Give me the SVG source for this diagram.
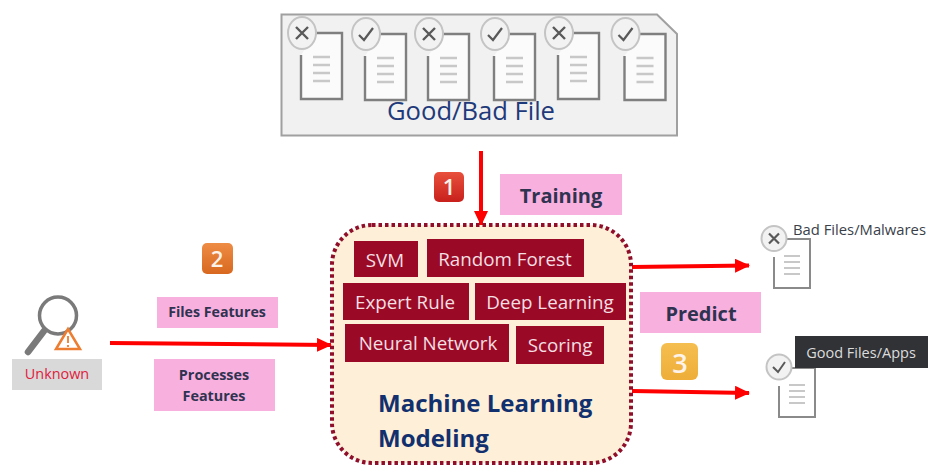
<svg xmlns="http://www.w3.org/2000/svg" width="928" height="466" viewBox="0 0 928 466">
<defs>
<marker id="arr" markerUnits="userSpaceOnUse" markerWidth="15" markerHeight="14" refX="14" refY="7" orient="auto"><path d="M0 0L15 7L0 14Z" fill="#fe0000"/></marker>
<linearGradient id="g1" x1="0" y1="0" x2="0" y2="1"><stop offset="0" stop-color="#e8503c"/><stop offset="1" stop-color="#c8201c"/></linearGradient>
<linearGradient id="g2" x1="0" y1="0" x2="0" y2="1"><stop offset="0" stop-color="#ee8c45"/><stop offset="1" stop-color="#d8681f"/></linearGradient>
<linearGradient id="g3" x1="0" y1="0" x2="0" y2="1"><stop offset="0" stop-color="#f5be50"/><stop offset="1" stop-color="#eeae38"/></linearGradient>
<g id="doc">
<path d="M15 0H41V66H0V22" fill="#fbfbfb" stroke="#7f7f7f" stroke-width="2.400"/>
<path d="M12 24H29M12 32H29M12 40H29M12 48H29" stroke="#c8c8c8" stroke-width="2.600" fill="none"/>
</g>
<g id="bad"><use href="#doc"/><ellipse cx="1" cy="0" rx="14" ry="16" fill="#f2f2f2" stroke="#c4c4c4" stroke-width="2"/><path d="M-5 -6L7 6M7 -6L-5 6" stroke="#595959" stroke-width="2.400" fill="none"/></g>
<g id="good"><use href="#doc"/><ellipse cx="1" cy="0" rx="14" ry="16" fill="#f2f2f2" stroke="#c4c4c4" stroke-width="2"/><path d="M-6 1L-1 6L8 -6" stroke="#595959" stroke-width="2.200" fill="none"/></g>
<g id="sdoc">
<path d="M12 0H36V49H0V18" fill="#fff" stroke="#8a8a8a" stroke-width="2"/>
<path d="M10 17H26M10 23H26M10 29H26M10 35H26" stroke="#c8c8c8" stroke-width="2" fill="none"/>
</g>
</defs>
<style>
text{font-family:"Open Sans","Noto Sans",sans-serif}
.pink{fill:#f8b0df}
.pl{font-weight:700;fill:#2f3350;text-anchor:middle}
.alg rect{fill:#9a0a26}
.alg text{fill:#f3dfe2;font-size:18.800px;text-anchor:middle}
.conn{stroke:#fe0000;stroke-width:4;fill:none;marker-end:url(#arr)}
.badge{font-weight:600;font-size:22px;fill:#fdf3ea;text-anchor:middle}
</style>
<g id="connectors">
<path class="conn" d="M481 151V225"/>
<path class="conn" d="M110 343L331 345"/>
<path class="conn" d="M632 267L749 265.500"/>
<path class="conn" d="M632 391L749 393"/>
</g>
<g id="good-bad-file">
<path d="M281.500 14.500H657L677 34V135.500H281.500Z" fill="#f1f1f1" stroke="#a0a0a0" stroke-width="2"/>
<use href="#bad" x="301" y="33"/><use href="#good" x="365" y="34"/><use href="#bad" x="428" y="34"/><use href="#good" x="494" y="34"/><use href="#bad" x="558" y="33"/><use href="#good" x="624.500" y="34"/>
<text x="471" y="120" font-size="25.600" fill="#1f3a7a" text-anchor="middle">Good/Bad File</text>
</g>
<g id="badge-1"><rect x="434" y="172" width="30" height="30" rx="5" fill="url(#g1)"/><text class="badge" x="449" y="195">1</text></g>
<g id="training"><rect class="pink" x="500" y="174" width="122" height="41"/><text class="pl" x="561" y="203" font-size="20">Training</text></g>
<g id="badge-2"><rect x="202" y="243" width="31" height="31" rx="5" fill="url(#g2)"/><text class="badge" x="217" y="267">2</text></g>
<g id="files-features"><rect class="pink" x="157" y="297" width="121" height="31"/><text class="pl" x="217" y="317" font-size="14.200">Files Features</text></g>
<g id="processes-features"><rect class="pink" x="154" y="359" width="121" height="52"/><text class="pl" x="214" y="380" font-size="14.400">Processes</text><text class="pl" x="214" y="401" font-size="14.400">Features</text></g>
<g id="unknown">
<circle cx="58" cy="315.500" r="18.500" fill="none" stroke="#7a7a7a" stroke-width="3.500"/>
<path d="M44 331L28 352" stroke="#7a7a7a" stroke-width="6.500" stroke-linecap="round"/>
<path d="M68 329L56 349H80Z" fill="#fff" stroke="#ed7d31" stroke-width="2.500"/>
<path d="M68 336V343M68 345V347" stroke="#ed7d31" stroke-width="1.800"/>
<rect x="12" y="359" width="90" height="31" fill="#d9d9d9"/>
<text x="57" y="379" font-size="14.400" fill="#e0203c" text-anchor="middle">Unknown</text>
</g>
<g id="ml-modeling">
<rect x="332" y="225" width="299" height="238" rx="40" fill="#fdefd8" stroke="#8f0f2a" stroke-width="4" stroke-dasharray="3.500 3"/>
<g class="alg">
<rect x="354" y="241" width="64" height="36"/><text x="385" y="267">SVM</text>
<rect x="427" y="239" width="157" height="38"/><text x="505" y="266">Random Forest</text>
<rect x="343" y="283" width="126" height="37"/><text x="405" y="309">Expert Rule</text>
<rect x="475" y="283" width="151" height="37"/><text x="550" y="309">Deep Learning</text>
<rect x="345" y="324" width="164" height="38"/><text x="428" y="350">Neural Network</text>
<rect x="516" y="326" width="88" height="38"/><text x="560" y="352">Scoring</text>
</g>
<text x="378" y="412" font-size="24" font-weight="700" fill="#12306e">Machine Learning</text>
<text x="378" y="447" font-size="24" font-weight="700" fill="#12306e">Modeling</text>
</g>
<g id="bad-files">
<use href="#sdoc" x="774" y="239"/>
<circle cx="774" cy="238.500" r="12.500" fill="#f2f2f2" stroke="#c4c4c4" stroke-width="2"/>
<path d="M769 233.500L779 243.500M779 233.500L769 243.500" stroke="#595959" stroke-width="2.200" fill="none"/>
<text x="793" y="235" font-size="14.800" fill="#3a3f4a">Bad Files/Malwares</text>
</g>
<g id="predict"><rect class="pink" x="640" y="292" width="121" height="41"/><text class="pl" x="701" y="321" font-size="20">Predict</text></g>
<g id="badge-3"><rect x="661" y="343" width="37" height="37" rx="6" fill="url(#g3)"/><text class="badge" x="680" y="373" style="font-size:27px">3</text></g>
<g id="good-files">
<use href="#sdoc" x="779" y="368"/>
<circle cx="779" cy="367" r="12.500" fill="#f2f2f2" stroke="#c4c4c4" stroke-width="2"/>
<path d="M773 367L778 372L785 362" stroke="#595959" stroke-width="2" fill="none"/>
<rect x="795" y="336" width="133" height="32" fill="#303236"/>
<text x="861" y="358" font-size="14.500" fill="#dcdcdc" text-anchor="middle">Good Files/Apps</text>
</g>
</svg>
